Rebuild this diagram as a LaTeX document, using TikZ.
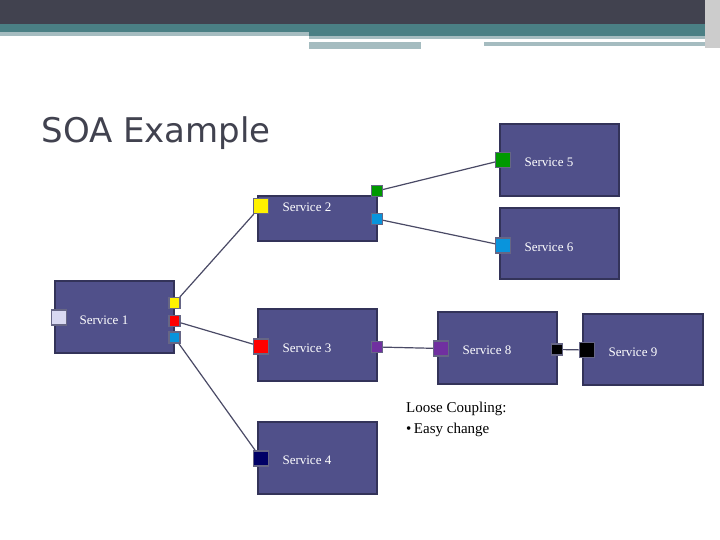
\documentclass[tikz,border=0pt]{standalone}
\usepackage{fontspec}
\setmainfont{Liberation Serif}
\newfontfamily\titlefont{DejaVu Sans}
\begin{document}
\begin{tikzpicture}[x=1pt,y=-1pt,
  box/.style={draw=black!75!blue!60!gray,line width=1.4pt,fill=boxc,inner sep=0},
  port/.style={draw=black!80!blue!60,line width=1.2pt,minimum size=#1,inner sep=0},
  big/.style={port=15pt},
  small/.style={port=11pt},
  lbl/.style={text=white,font=\fontsize{13}{15}\selectfont,anchor=west},
  wire/.style={draw=linec,line width=1.2pt}]
\definecolor{boxc}{HTML}{50508A}
\definecolor{linec}{HTML}{4A4A66}
\definecolor{hdr}{HTML}{41424F}
\definecolor{teal}{HTML}{4A7F84}
\definecolor{lt}{HTML}{A5BCC0}
\definecolor{purp}{HTML}{7030A0}
\useasboundingbox (0,0) rectangle (720,540);
\fill[white] (0,0) rectangle (720,540);
% header
\fill[hdr] (0,0) rectangle (720,24);
\fill[teal] (0,24) rectangle (720,32);
\fill[lt] (0,32) rectangle (309,36);
\fill[teal] (309,32) rectangle (720,36);
\fill[lt] (309,36) rectangle (720,39);
\fill[lt] (309,42) rectangle (421,49);
\fill[lt] (484,42) rectangle (720,46);
\fill[gray!40] (705,0) rectangle (720,48);
\node[anchor=west,font=\titlefont\fontsize{34}{38}\selectfont,text=hdr] (title) at (38,133) {SOA Example};
% boxes
\node[box,minimum width=119pt,minimum height=72pt] (b1) at (114.5,317) {};
\node[box,minimum width=119pt,minimum height=45pt] (b2) at (317.5,218.5) {};
\node[box,minimum width=119pt,minimum height=72pt] (b3) at (317.5,345) {};
\node[box,minimum width=119pt,minimum height=72pt] (b4) at (317.5,458) {};
\node[box,minimum width=119pt,minimum height=72pt] (b5) at (559.5,160) {};
\node[box,minimum width=119pt,minimum height=71pt] (b6) at (559.5,243.5) {};
\node[box,minimum width=119pt,minimum height=72pt] (b8) at (497.5,348) {};
\node[box,minimum width=120pt,minimum height=71pt] (b9) at (643,349.5) {};
% big ports
\node[big,fill=gray!50!blue!20] (p1) at (59,317.5) {};
\node[big,fill=yellow] (p2) at (261,206) {};
\node[big,fill=red] (p3) at (261,346.5) {};
\node[big,fill=blue!40!black] (p4) at (261,458.5) {};
\node[big,fill=green!60!black] (p5) at (503,160) {};
\node[big,fill=cyan!80!blue] (p6) at (503,245.5) {};
\node[big,fill=purp] (p8) at (441,348.5) {};
\node[big,fill=black] (p9) at (587,350) {};
% small ports
\node[small,fill=yellow] (s1a) at (174.5,303) {};
\node[small,fill=red] (s1b) at (174.5,321) {};
\node[small,fill=cyan!80!blue] (s1c) at (174.5,337.5) {};
\node[small,fill=green!60!black] (s2a) at (377,191) {};
\node[small,fill=cyan!80!blue] (s2b) at (377,219) {};
\node[small,fill=purp] (s3) at (377,347) {};
\node[small,fill=black] (s8) at (557,349.5) {};
% labels
\node[lbl] (l1) at (76,320) {Service 1};
\node[lbl] (l2) at (279,207) {Service 2};
\node[lbl] (l3) at (279,348) {Service 3};
\node[lbl] (l4) at (279,460) {Service 4};
\node[lbl] (l5) at (521,162) {Service 5};
\node[lbl] (l6) at (521,247) {Service 6};
\node[lbl] (l8) at (459,350) {Service 8};
\node[lbl] (l9) at (605,352) {Service 9};
% wires
\draw[wire] (s1a) -- (p2);
\draw[wire] (s1b) -- (p3);
\draw[wire] (s1c) -- (p4);
\draw[wire] (s2a) -- (p5);
\draw[wire] (s2b) -- (p6);
\draw[wire] (s3) -- (p8);
\draw[wire] (s8) -- (p9);
\node[anchor=north west,align=left,font=\fontsize{15}{21}\selectfont,inner sep=0] (note) at (406,402) {Loose Coupling:\\\textbullet\,Easy change};
\end{tikzpicture}
\end{document}
